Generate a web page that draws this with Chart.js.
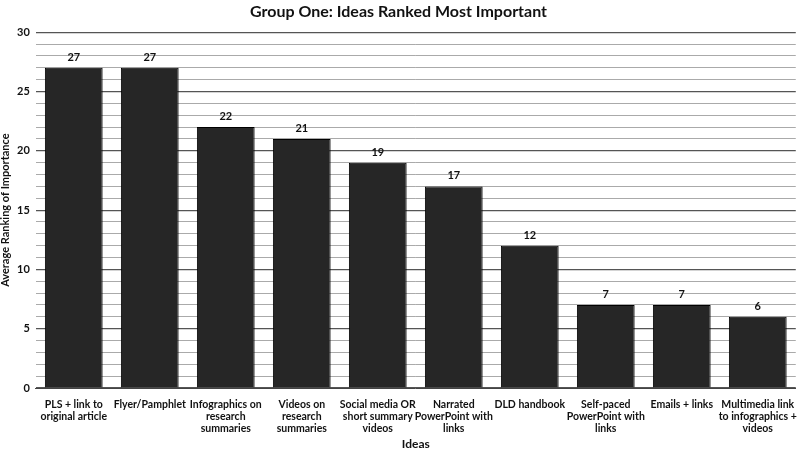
<!DOCTYPE html>
<html>
<head>
<meta charset="utf-8">
<script src="https://cdn.jsdelivr.net/npm/chart.js@4/dist/chart.umd.min.js"></script>
<style>
  html,body{margin:0;padding:0;background:#fff;}
  #wrap{width:800px;height:451px;}
</style>
</head>
<body>
<div id="wrap"><canvas id="chart" width="800" height="451"></canvas></div>
<script>
// --- Data ---
const ideas = [
  ["PLS + link to","original article"],
  "Flyer/Pamphlet",
  ["Infographics on","research","summaries"],
  ["Videos on","research","summaries"],
  ["Social media OR","short summary","videos"],
  ["Narrated","PowerPoint with","links"],
  "DLD handbook",
  ["Self-paced","PowerPoint with","links"],
  "Emails + links",
  ["Multimedia link","to infographics +","videos"]
];
const rankings = [27, 27, 22, 21, 19, 17, 12, 7, 7, 6];
const yMax = 30;

const FONT = "Lato, 'Open Sans', sans-serif";

// --- value labels above bars ---
const barLabels = {
  id:'barLabels',
  afterDatasetsDraw(chart){
    const ctx = chart.ctx;
    const meta = chart.getDatasetMeta(0);
    ctx.save();
    ctx.font = "bold 11px " + FONT;
    ctx.fillStyle = "#111";
    ctx.textAlign = "center";
    ctx.textBaseline = "bottom";
    meta.data.forEach((bar,i)=>{ ctx.fillText(rankings[i], bar.x, bar.y - 5); });
    ctx.restore();
  }
};

new Chart(document.getElementById('chart'), {
  type:'bar',
  data:{
    labels: ideas,
    datasets:[{
      data: rankings,
      backgroundColor:'#262626',
      borderColor:'#000',
      borderWidth:1,
      barPercentage:0.76,
      categoryPercentage:1.0
    }]
  },
  options:{
    responsive:false,
    animation:false,
    layout:{padding:{top:0,right:3,left:0,bottom:0}},
    plugins:{
      legend:{display:false},
      tooltip:{enabled:false},
      title:{display:true, text:'Group One: Ideas Ranked Most Important', color:'#111',
        font:{family:FONT, size:16, weight:'bold'}, padding:{top:2,bottom:11}}
    },
    scales:{
      x:{
        afterFit:s => { s.height = 63; },
        grid:{display:false},
        border:{color:'#444'},
        ticks:{color:'#111', font:{family:FONT, size:10.5, weight:'bold', lineHeight:1.12}, maxRotation:0, autoSkip:false, padding:3},
        title:{display:true, text:'Ideas', color:'#111', font:{family:FONT, size:12, weight:'bold', lineHeight:1.1}, padding:{top:0,bottom:0}}
      },
      y:{
        min:0, max:yMax,
        grid:{
          drawTicks:false,
          color:c => c.tick.value % 5 === 0 ? '#555' : '#aaa',
          lineWidth:c => c.tick.value % 5 === 0 ? 1.2 : 1
        },
        border:{display:false},
        ticks:{stepSize:1, autoSkip:false, padding:6, color:'#111',
          font:{family:FONT, size:11, weight:'bold'},
          callback:v => v % 5 === 0 ? v : ''},
        title:{display:true, text:'Average Ranking of Importance', color:'#111', font:{family:FONT, size:11, weight:'bold', lineHeight:1.0}, padding:{top:0,bottom:0}}
      }
    }
  },
  plugins:[barLabels]
});
</script>
</body>
</html>
